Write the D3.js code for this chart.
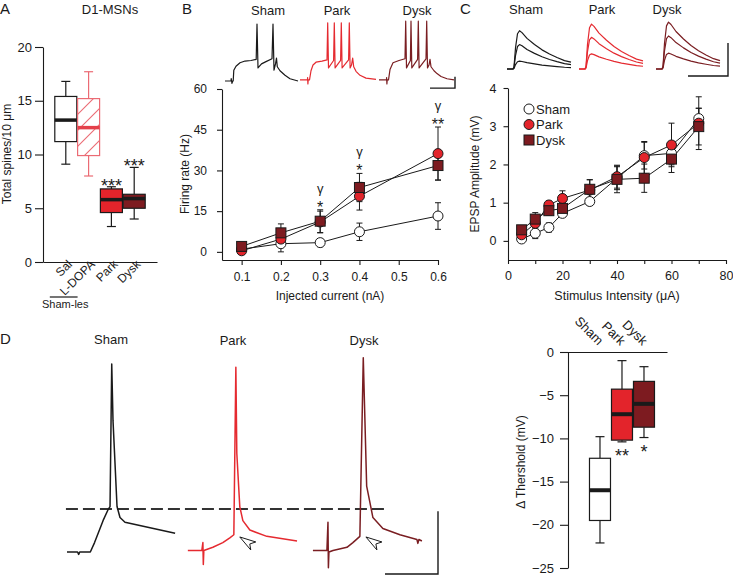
<!DOCTYPE html>
<html><head><meta charset="utf-8">
<script src="https://cdn.jsdelivr.net/npm/d3@7"></script>
<style>
body{margin:0;background:#fff;}
svg{display:block;font-family:"Liberation Sans",Arial,sans-serif;}
</style></head><body>
<svg id="chart" width="733" height="577"></svg>
<script>
// ================= DATA =================
// Panel A: spine density box plots
const spineCats = ["Sal","L-DOPA","Park","Dysk"];
const spineLo  = [9.1, 8.0, 3.3, 4.0];
const spineQ1  = [11.2, 9.9, 4.6, 5.0];
const spineMed = [13.2, 12.5, 5.8, 5.9];
const spineQ3  = [15.4, 15.2, 6.8, 6.3];
const spineHi  = [16.8, 17.7, 7.0, 8.8];
const spineSig = ["", "", "***", "***"];
const spineTicks = [0,5,10,15,20];

// Panel B: firing rate vs injected current
const currents = [0.1,0.2,0.3,0.4,0.6];
const currentTicks = [0.1,0.2,0.3,0.4,0.5,0.6];
const rateTicks = [0,15,30,45,60];
const rateSham = [1.0,3.0,3.4,7.4,13.2];
const rateShamErr = [0.8,3.0,1.5,3.2,4.9];
const ratePark = [0.4,4.7,11.0,20.5,36.2];
const rateParkErr = [1.0,2.5,4.0,5.1,9.8];
const rateDysk = [2.0,7.0,11.3,23.7,31.8];
const rateDyskErr = [1.5,3.3,4.2,5.2,5.3];
const rateGamma = ["","","γ","γ","γ"];
const rateStars = ["","","*","*","**"];

// Panel C: EPSP amplitude vs stimulus intensity
const stim = [5,10,15,20,30,40,50,60,70];
const stimTicks = [0,10,20,30,40,50,60,70,80];
const epspTicks = [0,1,2,3,4];
const epspSham = [0.05,0.2,0.35,0.72,1.03,1.64,2.23,2.29,3.2];
const epspShamErr = [0.05,0.14,0.12,0.08,0.1,0.3,0.35,0.3,0.27];
const epspPark = [0.16,0.46,0.94,1.11,1.33,1.68,2.18,2.51,3.08];
const epspParkErr = [0.05,0.15,0.1,0.2,0.27,0.3,0.42,0.57,0.69];
const epspDysk = [0.29,0.57,0.79,0.85,1.35,1.61,1.64,2.14,2.99];
const epspDyskErr = [0.08,0.17,0.12,0.15,0.25,0.35,0.37,0.35,0.48];

// Panel D: threshold box plots
const threshCats = ["Sham","Park","Dysk"];
const threshLo  = [-22.1,-10.4,-9.9];
const threshQ1  = [-19.5,-10.2,-8.7];
const threshMed = [-16.0,-7.2,-6.0];
const threshQ3  = [-12.3,-4.3,-3.4];
const threshHi  = [-9.8,-1.0,-1.7];
const threshSig = ["","**","*"];
const threshTicks = [0,-5,-10,-15,-20,-25];

// Example traces (time ms, membrane potential mV)
const groups = ["Sham","Park","Dysk"];
const traceB_Sham = [[0,-80],[60,-80],[62,-76],[70,-84],[76,-80],[82,-80],[88,-61],[110,-54],[150,-48],[200,-45],[260,-44],[312,-42],[320,20],[330,-57],[365,-50],[410,-46],[470,-41],[480,20],[490,-61],[505,-50],[515,-40],[523,-55],[550,-62],[600,-70],[650,-76],[730,-80]];
const traceB_Park = [[0,-78],[75,-78],[76,-74],[79,-85],[82,-78],[95,-78],[110,-62],[130,-52],[160,-47],[220,-45],[270,-43],[277,22],[285,-57],[336,-44],[343,22],[351,-57],[406,-44],[413,22],[421,-57],[486,-43],[493,22],[501,-57],[515,-52],[527,-40],[537,-55],[560,-63],[600,-70],[660,-75],[760,-77]];
const traceB_Dysk = [[0,-78],[75,-78],[76,-74],[79,-85],[82,-78],[95,-78],[110,-60],[140,-48],[200,-44],[260,-41],[267,25],[275,-57],[314,-44],[320,25],[328,-57],[386,-42],[393,25],[401,-57],[470,-41],[477,25],[485,-57],[500,-52],[510,-42],[520,-55],[550,-62],[580,-67],[620,-72],[680,-76],[750,-78]];
const traceB_Offsets = [0,750,1540];
const scaleBarB = [250,20];

const epspTemplate = [[0,0],[12,0],[14,0.06],[17,0.55],[21,0.92],[25,1],[30,0.95],[40,0.8],[55,0.64],[70,0.5],[85,0.39],[100,0.3],[115,0.22],[128,0.18]];
const epspAmpSham = [1.2,3.7,5.8];
const epspAmpPark = [2.3,4.8,6.8];
const epspAmpDysk = [2.4,5.0,7.1];
const epspTraceOffsets = [0,144,298];
const scaleBarC = [80,5];

const traceD_Sham = [[0,-80],[10,-80],[11,-81.5],[12,-80],[22,-80],[26,-74],[34,-60],[38.7,-53],[40.6,-51],[42.2,40],[43.4,4],[47.2,-51],[50,-58],[54.7,-61],[102,-68]];
const traceD_Park = [[0,-79],[13.2,-79],[14.2,-74],[14.6,-88],[15.1,-79],[23.6,-77],[33,-74],[39.6,-71],[43.4,-69],[45.3,38],[46.2,-17],[49,-51],[51.9,-60],[58.5,-66],[74.5,-70],[103,-73]];
const traceD_Dysk = [[0,-79],[13.2,-79],[14.2,-61],[14.6,-90],[15.1,-80],[18.9,-79],[32.1,-77],[37.7,-74],[44.3,-70],[47.5,44],[50.7,-38],[56.6,-58],[66,-65],[82.1,-69],[98.1,-72],[99,-74.5],[100,-72],[102.8,-73]];
const traceD_Offsets = [0,114,232];
const thresholdV = -52.6;
const arrowTipsT = [163,282];
const arrowTipsV = [-70.4,-70.4];
const scaleBarD = [50,40];

// ================= DRAW =================
const svg = d3.select("#chart");
svg.append("rect").attr("width",733).attr("height",577).attr("fill","#fff");
const FONT = '"Liberation Sans", Arial, sans-serif';
const INK = "#1a1a1a";
const RED = "#e3242b", DRED = "#7d1b20", LRED = "#eb6b74";
const groupColor = {Sham:INK, Park:"#e52a30", Dysk:"#7a1e22"};
const groupFill = {Sham:"#ffffff", Park:RED, Dysk:DRED};

const defs = svg.append("defs");
defs.append("pattern").attr("id","hatch").attr("patternUnits","userSpaceOnUse")
  .attr("width",16).attr("height",16)
  .call(p=>{ p.append("rect").attr("width",16).attr("height",16).attr("fill","#fff");
    p.append("path").attr("d","M0,16 L16,0 M-4,4 L4,-4 M12,20 L20,12").attr("stroke",LRED).attr("stroke-width",1.1); });

function label(x,y,s,size,anchor="middle",g=svg){
  return g.append("text").attr("x",x).attr("y",y).attr("font-size",size).attr("text-anchor",anchor)
    .attr("fill",INK).attr("font-family",FONT).text(s);
}
function styleAxis(g,size){
  g.attr("font-family",FONT).attr("font-size",size);
  g.selectAll("path.domain").attr("stroke",INK).attr("stroke-width",1.1);
  g.selectAll(".tick line").attr("stroke",INK).attr("stroke-width",1.1);
  g.selectAll(".tick text").attr("fill",INK);
}
function drawBoxes(g, cats, lo,q1,med,q3,hi, x, y, bw, cw, styles){
  cats.forEach((c,i)=>{
    const cx = x(c) + x.bandwidth()/2, st = styles[i];
    g.append("line").attr("x1",cx).attr("x2",cx).attr("y1",y(hi[i])).attr("y2",y(q3[i])).attr("stroke",st.stroke).attr("stroke-width",1.2);
    g.append("line").attr("x1",cx).attr("x2",cx).attr("y1",y(lo[i])).attr("y2",y(q1[i])).attr("stroke",st.stroke).attr("stroke-width",1.2);
    g.append("line").attr("x1",cx-cw/2).attr("x2",cx+cw/2).attr("y1",y(hi[i])).attr("y2",y(hi[i])).attr("stroke",st.stroke).attr("stroke-width",1.2);
    g.append("line").attr("x1",cx-cw/2).attr("x2",cx+cw/2).attr("y1",y(lo[i])).attr("y2",y(lo[i])).attr("stroke",st.stroke).attr("stroke-width",1.2);
    g.append("rect").attr("x",cx-bw/2).attr("width",bw).attr("y",y(q3[i])).attr("height",y(q1[i])-y(q3[i]))
      .attr("fill",st.fill).attr("stroke",st.stroke).attr("stroke-width",1.2);
    g.append("line").attr("x1",cx-bw/2).attr("x2",cx+bw/2).attr("y1",y(med[i])).attr("y2",y(med[i])).attr("stroke",st.med).attr("stroke-width",st.mw);
  });
}
function marker(g, cx, cy, shape, fill){
  if(shape==="circle") g.append("circle").attr("cx",cx).attr("cy",cy).attr("r",5).attr("fill",fill).attr("stroke",INK).attr("stroke-width",1);
  else g.append("rect").attr("x",cx-5).attr("y",cy-5).attr("width",10).attr("height",10).attr("fill",fill).attr("stroke",INK).attr("stroke-width",1);
}
function drawSeriesSet(g, xs, sets, x, y){
  sets.forEach(s=>{
    g.append("path").attr("d", d3.line().x((d,i)=>x(xs[i])).y(d=>y(d))(s.v)).attr("fill","none").attr("stroke",INK).attr("stroke-width",1);
  });
  sets.forEach(s=>{
    s.v.forEach((v,i)=>{
      const cx = x(xs[i]), y1 = y(v - s.e[i]), y2 = y(v + s.e[i]);
      g.append("line").attr("x1",cx).attr("x2",cx).attr("y1",y1).attr("y2",y2).attr("stroke",INK).attr("stroke-width",1);
      g.append("line").attr("x1",cx-3).attr("x2",cx+3).attr("y1",y1).attr("y2",y1).attr("stroke",INK).attr("stroke-width",1);
      g.append("line").attr("x1",cx-3).attr("x2",cx+3).attr("y1",y2).attr("y2",y2).attr("stroke",INK).attr("stroke-width",1);
    });
  });
  sets.forEach(s=>{ s.v.forEach((v,i)=> marker(g, x(xs[i]), y(v), s.shape, s.fill)); });
}
function drawTrace(arr, offset, tS, vS, color, w){
  svg.append("path").attr("d", d3.line().x(d=>tS(d[0]+offset)).y(d=>vS(d[1]))(arr))
    .attr("fill","none").attr("stroke",color).attr("stroke-width",w).attr("stroke-linejoin","round");
}
function scaleBar(tS, vS, t, v, dt, dv){
  svg.append("path").attr("d", d3.line()([[tS(t-dt),vS(v)],[tS(t),vS(v)],[tS(t),vS(v+dv)]]))
    .attr("fill","none").attr("stroke",INK).attr("stroke-width",1.4);
}

// ---------- PANEL A ----------
label(0,14,"A",15,"start");
label(110,14,"D1-MSNs",13);
const xA = d3.scaleBand().domain(spineCats).range([43,157]).paddingInner(0).paddingOuter(0.5);
const yA = d3.scaleLinear().domain([0,20]).range([262,47]);
svg.append("g").attr("transform","translate(43,0)")
  .call(d3.axisLeft(yA).tickValues(spineTicks).tickSize(8).tickPadding(3).tickSizeOuter(0))
  .call(styleAxis,13);
svg.append("g").attr("transform","translate(0,262)")
  .call(d3.axisBottom(xA).tickSize(0).tickSizeOuter(0))
  .call(styleAxis,12)
  .call(g=>g.selectAll(".tick text").attr("x",0).attr("y",0).attr("dy",0).attr("text-anchor","end").attr("transform","translate(7,3) rotate(-45)"));
svg.append("text").attr("transform","translate(11,154) rotate(-90)").attr("text-anchor","middle")
  .attr("font-size",12).attr("fill",INK).text("Total spines/10 μm");
const gA = svg.append("g");
drawBoxes(gA, spineCats, spineLo, spineQ1, spineMed, spineQ3, spineHi, xA, yA, 22, 9, [
  {fill:"#fff", stroke:INK, med:INK, mw:3.5},
  {fill:"url(#hatch)", stroke:LRED, med:"#e4404a", mw:3.5},
  {fill:RED, stroke:INK, med:INK, mw:3.5},
  {fill:DRED, stroke:INK, med:INK, mw:3.5}]);
spineCats.forEach((c,i)=>{ if(spineSig[i]) label(xA(c)+xA.bandwidth()/2, yA(spineHi[i])+5, spineSig[i], 18); });
svg.append("line").attr("x1",xA("Sal")+xA.bandwidth()/2-16).attr("x2",xA("L-DOPA")+xA.bandwidth()/2-11)
  .attr("y1",297).attr("y2",297).attr("stroke",INK).attr("stroke-width",1.2);
label(42,308,"Sham-les",11,"start");

// ---------- PANEL B ----------
label(182,14,"B",15,"start");
const tB = d3.scaleLinear().domain([0,2300]).range([225,455]);
const vB = d3.scaleLinear().domain([-80,20]).range([81,24]);
[traceB_Sham, traceB_Park, traceB_Dysk].forEach((tr,i)=> drawTrace(tr, traceB_Offsets[i], tB, vB, groupColor[groups[i]], 1.2));
scaleBar(tB, vB, 2300, -92.5, scaleBarB[0], scaleBarB[1]);
[268,337,417].forEach((x,i)=> label(x,15,groups[i],13));

const xB = d3.scaleLinear().domain([0.05,0.6]).range([222,438]);
const yB = d3.scaleLinear().domain([-3,60]).range([260,89]);
svg.append("g").attr("transform","translate(0,260)")
  .call(d3.axisBottom(xB).tickValues(currentTicks).tickSize(5).tickPadding(7).tickSizeOuter(0).tickFormat(d3.format(".1f")))
  .call(styleAxis,12);
svg.append("g").attr("transform","translate(222,0)")
  .call(d3.axisLeft(yB).tickValues(rateTicks).tickSize(5).tickPadding(10).tickSizeOuter(0))
  .call(styleAxis,12);
svg.append("text").attr("transform","translate(189,174) rotate(-90)").attr("text-anchor","middle")
  .attr("font-size",12).attr("fill",INK).text("Firing rate (Hz)");
label(330,300,"Injected current (nA)",12);
const gB = svg.append("g");
drawSeriesSet(gB, currents, [
  {v:rateSham, e:rateShamErr, shape:"circle", fill:"#fff"},
  {v:ratePark, e:rateParkErr, shape:"circle", fill:RED},
  {v:rateDysk, e:rateDyskErr, shape:"square", fill:DRED}], xB, yB);
currents.forEach((c,i)=>{
  if(!rateStars[i]) return;
  const top = yB(Math.max(rateSham[i]+rateShamErr[i], ratePark[i]+rateParkErr[i], rateDysk[i]+rateDyskErr[i]));
  label(xB(c), top+3, rateStars[i], 16);
  label(xB(c), top-17, rateGamma[i], 13);
});

// ---------- PANEL C ----------
label(460,14,"C",15,"start");
const tC = d3.scaleLinear().domain([0,442]).range([507,728]);
const vC = d3.scaleLinear().domain([0,5]).range([69,36]);
[epspAmpSham, epspAmpPark, epspAmpDysk].forEach((amps,i)=>{
  amps.forEach(a=> drawTrace(epspTemplate.map(d=>[d[0], d[1]*a]), epspTraceOffsets[i], tC, vC, groupColor[groups[i]], 1.2));
});
scaleBar(tC, vC, 442, -1.06, scaleBarC[0], scaleBarC[1]);
[526,602,667].forEach((x,i)=> label(x,14,groups[i],13));

const xC = d3.scaleLinear().domain([0,80]).range([508,726]);
const yC = d3.scaleLinear().domain([-0.5,4]).range([260,88]);
svg.append("g").attr("transform","translate(0,260)")
  .call(d3.axisBottom(xC).tickValues(stimTicks).tickSize(4).tickPadding(7).tickSizeOuter(0).tickFormat(d=> d%20===0 ? d : ""))
  .call(styleAxis,12.5);
svg.append("g").attr("transform","translate(508,0)")
  .call(d3.axisLeft(yC).tickValues(epspTicks).tickSize(4.5).tickPadding(7).tickSizeOuter(0).tickFormat(d3.format("d")))
  .call(styleAxis,12.5);
svg.append("text").attr("transform","translate(479,174) rotate(-90)").attr("text-anchor","middle")
  .attr("font-size",12).attr("fill",INK).text("EPSP Amplitude (mV)");
label(617,300,"Stimulus Intensity (μA)",12.5);
const gC = svg.append("g");
drawSeriesSet(gC, stim, [
  {v:epspSham, e:epspShamErr, shape:"circle", fill:"#fff"},
  {v:epspPark, e:epspParkErr, shape:"circle", fill:RED},
  {v:epspDysk, e:epspDyskErr, shape:"square", fill:DRED}], xC, yC);
const legShapes = ["circle","circle","square"];
groups.forEach((gname,i)=>{
  const ly = 109 + i*15.5;
  marker(svg, 529, ly, legShapes[i], groupFill[gname]);
  label(536, ly+4.5, gname, 13, "start");
});

// ---------- PANEL D traces ----------
label(0,344,"D",15,"start");
const tD = d3.scaleLinear().domain([0,350]).range([67,438]);
const vD = d3.scaleLinear().domain([-80,40]).range([552,364]);
svg.append("line").attr("x1",tD(-1)).attr("x2",tD(303)).attr("y1",vD(thresholdV)).attr("y2",vD(thresholdV))
  .attr("stroke","#333").attr("stroke-width",2).attr("stroke-dasharray","12,5");
[traceD_Sham, traceD_Park, traceD_Dysk].forEach((tr,i)=> drawTrace(tr, traceD_Offsets[i], tD, vD, groupColor[groups[i]], 1.5));
arrowTipsT.forEach((t,i)=>{
  const x = tD(t), y = vD(arrowTipsV[i]);
  svg.append("path").attr("d",`M${x},${y} L${x+16},${y+5} L${x+10},${y+7} L${x+11},${y+13} Z`)
    .attr("fill","#fff").attr("stroke",INK).attr("stroke-width",1);
});
scaleBar(tD, vD, 350, -94, scaleBarD[0], scaleBarD[1]);
[[111,344],[233,345],[364,345]].forEach((p,i)=> label(p[0],p[1],groups[i],13));

// ---------- PANEL D box ----------
const xD = d3.scaleBand().domain(threshCats).range([560,667]).paddingInner(0).paddingOuter(0.932).align(0.707);
const yD = d3.scaleLinear().domain([-25,0]).range([568,352]);
svg.append("g").attr("transform","translate(568,0)")
  .call(d3.axisLeft(yD).tickValues(threshTicks).tickSize(8).tickPadding(6).tickSizeOuter(0))
  .call(styleAxis,13);
svg.append("g").attr("transform","translate(0,352)")
  .call(d3.axisTop(xD).tickSize(0).tickSizeOuter(0))
  .call(styleAxis,13)
  .call(g=>g.selectAll(".tick text").attr("x",0).attr("y",0).attr("dy",0).attr("text-anchor","end").attr("transform","translate(-2,-6) rotate(45)"));
svg.append("text").attr("transform","translate(525,462) rotate(-90)").attr("text-anchor","middle")
  .attr("font-size",12).attr("fill",INK).text("Δ Thershold (mV)");
const gD = svg.append("g");
drawBoxes(gD, threshCats, threshLo, threshQ1, threshMed, threshQ3, threshHi, xD, yD, 21, 9, [
  {fill:"#fff", stroke:INK, med:INK, mw:4},
  {fill:RED, stroke:INK, med:INK, mw:4},
  {fill:DRED, stroke:INK, med:INK, mw:4}]);
threshCats.forEach((c,i)=>{ if(threshSig[i]) label(xD(c)+xD.bandwidth()/2, yD(threshLo[i])+20, threshSig[i], 18); });
</script></body></html>
